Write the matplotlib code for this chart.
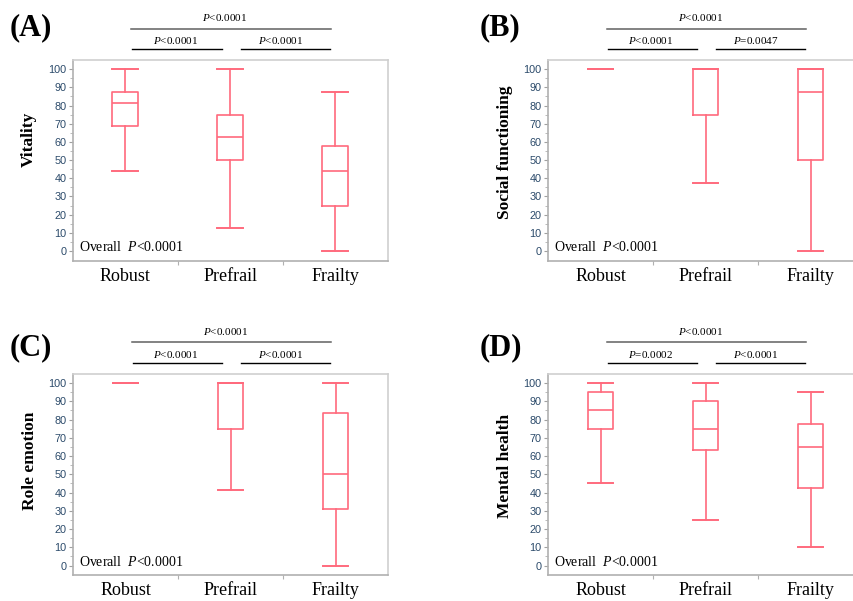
import matplotlib
matplotlib.use("Agg")
import matplotlib.pyplot as plt

plt.rcParams['font.family'] = ['Liberation Serif', 'DejaVu Serif']
plt.rcParams['mathtext.fontset'] = 'custom'
plt.rcParams['mathtext.rm'] = 'Liberation Serif'
plt.rcParams['mathtext.it'] = 'Liberation Serif:italic'

groups = ['Robust', 'Prefrail', 'Frailty']

# five-number summaries per group: low whisker, Q1, median, Q3, high whisker
vitality = [[43.75, 68.75, 81.25, 87.5, 100],
            [12.5, 50, 62.5, 75, 100],
            [0, 25, 43.75, 57.5, 87.5]]
social = [[100, 100, 100, 100, 100],
          [37.5, 75, 100, 100, 100],
          [0, 50, 87.5, 100, 100]]
role_emotion = [[100, 100, 100, 100, 100],
                [41.67, 75, 100, 100, 100],
                [0, 31.25, 50, 83.33, 100]]
mental = [[45, 75, 85, 95, 100],
          [25, 63.5, 75, 90, 100],
          [10, 42.5, 65, 77.5, 95]]

panel_tags = ['(A)', '(B)', '(C)', '(D)']
ylabels = ['Vitality', 'Social functioning', 'Role emotion', 'Mental health']
# p-values: overall, Robust vs Prefrail, Prefrail vs Frailty
p_overall = ['<0.0001', '<0.0001', '<0.0001', '<0.0001']
p_rob_pre = ['<0.0001', '<0.0001', '<0.0001', '=0.0002']
p_pre_fra = ['<0.0001', '=0.0047', '<0.0001', '<0.0001']

BOX = '#ff6a7d'
TICKC = '#2b4a6a'

fig = plt.figure(figsize=(8.54, 6.01), dpi=100)

rects = [[0.0849, 0.5662, 0.3689, 0.3339],
         [0.6417, 0.5662, 0.3689, 0.3339],
         [0.0855, 0.0428, 0.3689, 0.3350],
         [0.6417, 0.0428, 0.3689, 0.3350]]
tag_pos = [(10, 28), (480, 28), (10, 348), (480, 348)]
label_y = [0.606, 0.539, 0.568, 0.543]
datasets = [vitality, social, role_emotion, mental]

for k in range(4):
    ax = fig.add_axes(rects[k])
    stats = []
    for name, (lo, q1, med, q3, hi) in zip(groups, datasets[k]):
        stats.append({'label': name, 'whislo': lo, 'q1': q1, 'med': med,
                      'q3': q3, 'whishi': hi, 'fliers': []})
    ax.bxp(stats, positions=[1, 2, 3], widths=0.24, capwidths=0.24,
           boxprops=dict(color=BOX, lw=1.2),
           whiskerprops=dict(color=BOX, lw=1.2),
           capprops=dict(color=BOX, lw=1.4),
           medianprops=dict(color=BOX, lw=1.2),
           showfliers=False)
    ax.set_xlim(0.5, 3.5)
    ax.set_ylim(-5.3, 105)

    for s in ['top', 'right']:
        ax.spines[s].set_color('#cfcfcf')
        ax.spines[s].set_linewidth(1.2)
    for s in ['left', 'bottom']:
        ax.spines[s].set_color('#b0b0b0')
        ax.spines[s].set_linewidth(1.2)

    ax.set_yticks(range(0, 101, 10))
    ax.set_yticks(range(5, 100, 10), minor=True)
    ax.tick_params(axis='y', which='major', length=3, width=0.8, color='#a0a0a0',
                   pad=1.5, labelsize=7.8, labelcolor=TICKC)
    ax.tick_params(axis='y', which='minor', length=2, width=0.6, color='#b0b0b0')
    for lab in ax.get_yticklabels():
        lab.set_fontfamily('Liberation Sans')

    ax.set_xticks([1, 2, 3])
    ax.set_xticklabels(groups)
    ax.set_xticks([1.5, 2.5], minor=True)
    ax.tick_params(axis='x', which='major', length=0, pad=5, labelsize=13)
    ax.tick_params(axis='x', which='minor', length=3, width=0.8, color='#b0b0b0')

    ax.set_ylabel(ylabels[k], fontsize=12.5, fontweight='bold')
    ax.yaxis.set_label_coords(-0.112, label_y[k])

    ax.text(0.02, 0.068, r'Overall  $\mathit{P}$' + p_overall[k],
            transform=ax.transAxes, fontsize=10, va='center', ha='left')

    # significance brackets (data coordinates, drawn above the axes)
    ax.plot([1.06, 2.96], [122.3, 122.3], color='#606060', lw=1.1, clip_on=False)
    ax.plot([1.07, 1.92], [110.8, 110.8], color='black', lw=1.0, clip_on=False)
    ax.plot([2.10, 2.95], [110.8, 110.8], color='black', lw=1.0, clip_on=False)
    ax.text(1.95, 128.3, r'$\mathit{P}$' + p_overall[k], fontsize=8,
            ha='center', va='center', clip_on=False)
    ax.text(1.48, 115.6, r'$\mathit{P}$' + p_rob_pre[k], fontsize=8,
            ha='center', va='center', clip_on=False)
    ax.text(2.48, 115.6, r'$\mathit{P}$' + p_pre_fra[k], fontsize=8,
            ha='center', va='center', clip_on=False)

    tx, ty = tag_pos[k]
    fig.text(tx / 854, 1 - ty / 601, panel_tags[k], fontsize=22,
             fontweight='bold', ha='left', va='center')

fig.savefig('out.png', dpi=100)
